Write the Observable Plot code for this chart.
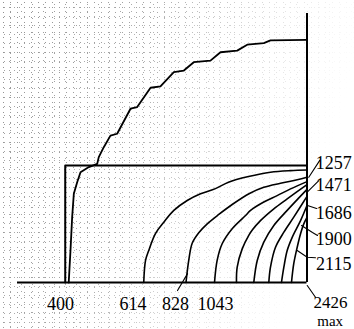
<!DOCTYPE html>
<html>
<head>
<meta charset="utf-8">
<script src="https://cdn.jsdelivr.net/npm/d3@7"></script>
<script src="https://cdn.jsdelivr.net/npm/@observablehq/plot@0.6"></script>
<style>
  html, body { margin: 0; padding: 0; background: #fff; }
  #wrap { position: relative; width: 354px; height: 329px; overflow: hidden; }
  #wrap::before {
    content: ""; position: absolute; inset: 0;
    background-image:
      radial-gradient(circle, #909090 0.55px, transparent 0.85px),
      radial-gradient(circle, #a0a0a0 0.55px, transparent 0.85px),
      radial-gradient(circle, #999 0.55px, transparent 0.85px);
    background-size: 7px 5px, 5px 9px, 11px 7px;
    background-position: 0 0, 2px 3px, 5px 1px;
    -webkit-mask-image: linear-gradient(105deg, #000 0%, rgba(0,0,0,.8) 35%, rgba(0,0,0,.3) 62%, transparent 85%);
    mask-image: linear-gradient(105deg, #000 0%, rgba(0,0,0,.8) 35%, rgba(0,0,0,.3) 62%, transparent 85%);
  }
  #wrap svg { position: relative; }
</style>
</head>
<body>
<div id="wrap"></div>
<script>
// ---- data (x: value units 0..2426, y: percent of height) ----
const maxValue = 2426;
const minValue = 400;
const boxTop = 43.5;

// big upper curve (level 400)
const curve400 = [[430,0],[430,0.7],[444,11.9],[458,24.3],[472,33.0],[500,37.3],[528,41.0],[598,42.9],[668,44.1],[681,46.6],[723,50.3],[779,54.6],[835,55.3],[947,64.6],[1003,65.2],[1115,72.4],[1198,72.9],[1310,78.2],[1394,78.8],[1477,81.9],[1617,82.5],[1701,85.6],[1841,86.2],[1925,88.4],[2064,89.0],[2120,90.0],[2426,90.2]];

const levels = [614, 828, 1043, 1257, 1471, 1686, 1900, 2115];
const curve614  = [[1058,0],[1073,8.2],[1100,11.9],[1156,18.2],[1226,22.4],[1310,26.8],[1422,30.5],[1534,33.0],[1659,34.9],[1768,37.3],[1936,39.4],[2120,41.0],[2288,41.6],[2426,41.8]];
const curve828  = [[1412,0],[1435,8.2],[1464,14.6],[1519,18.5],[1590,21.8],[1687,25.3],[1799,29.0],[1944,33.1],[2064,35.4],[2204,36.9],[2344,38.2],[2426,39.1]];
const curve1043 = [[1651,0],[1673,8.2],[1715,14.4],[1799,20.0],[1911,24.9],[1953,26.8],[2064,29.9],[2176,32.3],[2288,34.8],[2426,37.5]];
const curve1257 = [[1835,0],[1841,5.7],[1883,12.5],[1938,17.5],[1969,19.6],[2036,23.0],[2148,27.4],[2260,31.1],[2426,36.4]];
const curve1471 = [[1980,0],[2009,8.2],[2064,15.0],[2148,21.2],[2260,26.8],[2426,34.6]];
const curve1686 = [[2106,0],[2120,5.7],[2162,13.1],[2232,18.7],[2315,24.3],[2426,32.0]];
const curve1900 = [[2212,0],[2232,5.7],[2260,11.9],[2302,16.8],[2372,23.0],[2426,28.6]];
const curve2115 = [[2296,0],[2315,7.0],[2344,13.1],[2372,18.1],[2399,21.8],[2426,24.2]];

// tick labels and where they sit
const bottomLabels = ["400", "614", "828", "1043"];
const bottomLabelX = [360, 968, 1324, 1659];
const rightLabels = ["1257", "1471", "1686", "1900", "2115"];
const rightLabelY = [42.3, 34.2, 23.7, 13.8, 4.8];
const maxLabels = ["2426", "max"];
const maxLabelY = [-9.3, -16.0];

// leader lines from labels to curves
const leader828  = [[1341,-3.0],[1425,3.3]];
const leader1257 = [[2533,45.4],[2441,39.1]];
const leader1471 = [[2525,37.9],[2428,33.6]];
const leader1686 = [[2506,27.5],[2430,28.6]];
const leader1900 = [[2514,17.5],[2472,18.6],[2380,21.2]];
const leader2115 = [[2497,9.2],[2428,9.4],[2344,11.9]];
const leader2426 = [[2497,-5.5],[2428,-1.1]];

// ---- build tables ----
const levelCurves = [curve614, curve828, curve1043, curve1257, curve1471, curve1686, curve1900, curve2115];
const contourRows = levelCurves.flatMap((c, i) => c.map(([x, y]) => ({x, y, level: levels[i]})));
const bigRows = curve400.map(([x, y]) => ({x, y}));
const boxRows = [{x: minValue, y: 0}, {x: minValue, y: boxTop}, {x: maxValue, y: boxTop}];
const leaders = [leader828, leader1257, leader1471, leader1686, leader1900, leader2115, leader2426];
const leaderRows = leaders.flatMap((l, i) => l.map(([x, y]) => ({x, y, k: i})));
const bottomRows = bottomLabels.map((t, i) => ({t, x: bottomLabelX[i], y: -10.4}));
const rightRows = rightLabels.map((t, i) => ({t, x: 2650, y: rightLabelY[i]}));
const numRow = [{t: maxLabels[0], x: 2622, y: maxLabelY[0]}];
const wordRow = [{t: maxLabels[1], x: 2620, y: maxLabelY[1]}];

const font = "'Liberation Serif', 'DejaVu Serif', serif";

const chart = Plot.plot({
  width: 354,
  height: 329,
  marginTop: 0, marginRight: 0, marginBottom: 0, marginLeft: 0,
  style: {background: "transparent", fontFamily: font},
  x: {type: "linear", domain: [0, maxValue], range: [17, 306.5], axis: null},
  y: {type: "linear", domain: [0, 100], range: [282, 13], axis: null},
  marks: [
    Plot.line(boxRows, {x: "x", y: "y", stroke: "#000", strokeWidth: 2}),
    Plot.ruleX([maxValue], {y1: 0, y2: 100, stroke: "#000", strokeWidth: 2}),
    Plot.ruleY([0], {x1: 0, x2: maxValue, stroke: "#000", strokeWidth: 2.2}),
    Plot.line(bigRows, {x: "x", y: "y", stroke: "#000", strokeWidth: 1.8}),
    Plot.line(contourRows, {x: "x", y: "y", z: "level", stroke: "#000", strokeWidth: 1.6, curve: "catmull-rom"}),
    Plot.line(leaderRows, {x: "x", y: "y", z: "k", stroke: "#000", strokeWidth: 1.1}),
    Plot.text(bottomRows, {x: "x", y: "y", text: "t", lineAnchor: "bottom", textAnchor: "middle", fontSize: 18, fill: "#000", fontFamily: font}),
    Plot.text(rightRows, {x: "x", y: "y", text: "t", lineAnchor: "bottom", textAnchor: "middle", fontSize: 18, fill: "#000", fontFamily: font}),
    Plot.text(numRow, {x: "x", y: "y", text: "t", lineAnchor: "bottom", textAnchor: "middle", fontSize: 17, fill: "#000", fontFamily: font}),
    Plot.text(wordRow, {x: "x", y: "y", text: "t", lineAnchor: "bottom", textAnchor: "middle", fontSize: 15, fill: "#000", fontFamily: font})
  ]
});
document.getElementById("wrap").appendChild(chart);
</script>
</body>
</html>
